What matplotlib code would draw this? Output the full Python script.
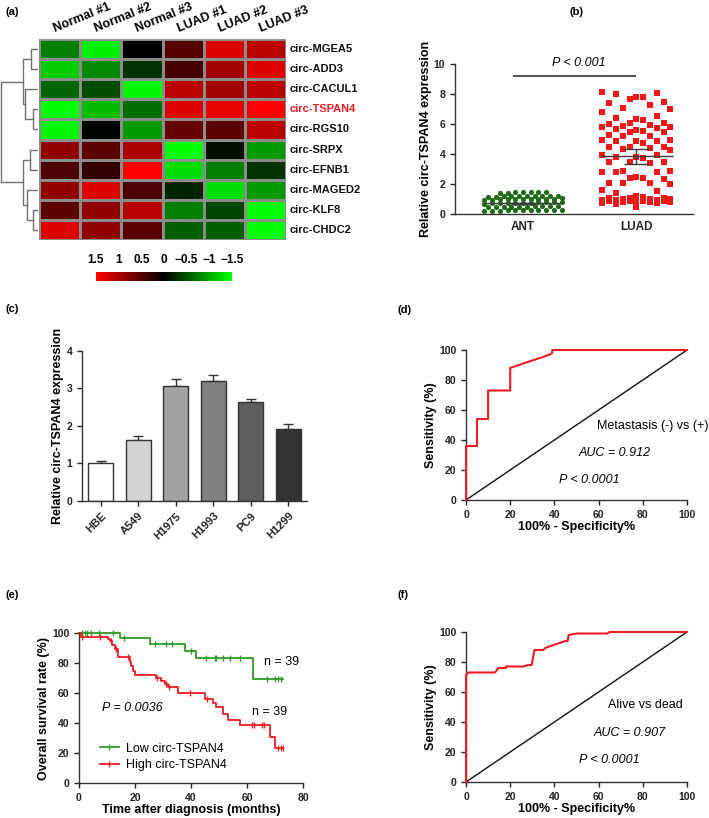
import numpy as np
import matplotlib

matplotlib.use("Agg")
import matplotlib.pyplot as plt
from matplotlib.colors import LinearSegmentedColormap
from matplotlib.lines import Line2D

plt.rcParams["font.family"] = ["Liberation Sans", "DejaVu Sans"]
plt.rcParams["axes.edgecolor"] = "#333333"
plt.rcParams["axes.linewidth"] = 1.0

# ---- (a) heatmap data ----
samples = ["Normal #1", "Normal #2", "Normal #3", "LUAD #1", "LUAD #2", "LUAD #3"]
circ_names = ["circ-MGEA5", "circ-ADD3", "circ-CACUL1", "circ-TSPAN4", "circ-RGS10",
              "circ-SRPX", "circ-EFNB1", "circ-MAGED2", "circ-KLF8", "circ-CHDC2"]
heat_values = [
    [-0.75, -1.40, 0.00, 0.50, 1.30, 1.10],
    [-1.20, -0.80, -0.30, 0.40, 0.95, 1.30],
    [-0.60, -0.45, -1.45, 1.10, 0.95, 1.10],
    [-1.50, -1.10, -0.65, 1.30, 1.35, 1.50],
    [-1.45, -0.03, -0.90, 0.60, 0.55, 1.10],
    [0.85, 0.55, 1.00, -1.50, -0.10, -0.90],
    [0.45, 0.30, 1.50, -1.30, -0.75, -0.30],
    [0.85, 1.30, 0.45, -0.20, -1.30, -0.90],
    [0.55, 0.85, 1.10, -0.75, -0.40, -1.50],
    [1.30, 0.85, 0.55, -0.55, -0.55, -1.50],
]
# merges (left id, right id, height); leaves are 0..9, new nodes 10, 11, ...
dendro_merges = [(0, 1, 7.0), (3, 4, 5.5), (2, 11, 13.0), (10, 12, 15.3),
                 (5, 6, 8.0), (8, 9, 5.5), (7, 15, 11.3), (14, 16, 14.7), (13, 17, 37.0)]
colorbar_ticks = [1.5, 1, 0.5, 0, -0.5, -1, -1.5]

# ---- (b) scatter data ----
ant_values = [0.20, 0.22, 0.24, 0.25, 0.25, 0.26, 0.27, 0.28, 0.30, 0.22, 0.24,
              0.45, 0.48, 0.50, 0.50, 0.52, 0.53, 0.55, 0.47, 0.50, 0.56,
              0.70, 0.72, 0.74, 0.75, 0.76, 0.78, 0.80, 0.73, 0.77, 0.79, 0.71,
              0.95, 0.97, 0.98, 1.00, 1.00, 1.02, 1.03, 0.96, 1.01, 0.99, 1.04,
              1.15, 1.17, 1.18, 1.20, 1.20, 1.21, 1.22, 1.16, 1.19, 1.23,
              1.42, 1.44, 1.45, 1.46, 1.47, 1.43, 1.48]
luad_values = [8.15, 8.05, 8.00, 7.80, 7.80, 7.70, 7.45, 7.40, 7.30, 7.05, 7.00, 6.80,
               6.55, 6.40, 6.35, 6.30, 6.10, 6.05, 6.00, 5.95, 5.90, 5.80, 5.80, 5.75,
               5.70, 5.60, 5.55, 5.50, 5.45, 5.25, 5.20, 5.20, 4.95, 4.95, 4.90, 4.90,
               4.85, 4.75, 4.50, 4.50, 4.45, 4.40, 4.35, 4.30, 3.95, 3.95, 3.80, 3.80,
               3.75, 3.50, 3.45, 3.45, 3.40, 2.85, 2.85, 2.80, 2.80, 2.80, 2.50, 2.40,
               2.40, 2.35, 2.05, 2.05, 2.05, 2.00, 1.60, 1.55, 1.40, 1.20, 1.15, 1.10,
               1.05, 1.05, 1.00, 1.00, 1.00, 0.95, 0.95, 0.95, 0.90, 0.90, 0.85, 0.85,
               0.85, 0.80, 0.80, 0.80, 0.75, 0.75, 0.70, 0.50]
group_means = [0.72, 3.85]
group_sems = [0.04, 0.50]

# ---- (c) bar data ----
cell_lines = ["HBE", "A549", "H1975", "H1993", "PC9", "H1299"]
cell_expr = [1.00, 1.63, 3.07, 3.20, 2.63, 1.93]
cell_err = [0.06, 0.09, 0.17, 0.15, 0.09, 0.12]
bar_colors = ["#ffffff", "#d2d2d2", "#a2a2a4", "#808080", "#5e5e5e", "#333333"]

# ---- (d) ROC metastasis ----
roc_d_fpr = [0, 0, 5, 5, 10, 10, 20, 20, 38, 39, 39, 100]
roc_d_tpr = [0, 36, 36, 54, 54, 73, 73, 88, 97, 98, 100, 100]

# ---- (e) Kaplan-Meier ----
low_event_months = [14.5, 25.2, 37.7, 41.7, 62.0]
low_levels = [96.6, 92.5, 87.8, 83.2, 69.2]
low_censor = [1.0, 2.0, 3.0, 4.3, 7.2, 12.0, 16.2, 27.0, 31.2, 33.2, 40.0, 45.5,
              48.4, 49.0, 51.5, 53.8, 57.4, 67.0, 70.0, 71.0, 72.3]
low_end = 72.8
high_event_months = [0.6, 10.4, 11.0, 11.8, 12.8, 14.0, 18.1, 18.7, 19.3, 19.9, 27.6,
                     29.4, 30.6, 31.8, 35.4, 45.1, 47.9, 49.0, 51.4, 53.2, 57.4, 68.1, 69.9]
high_levels = [97.4, 96.0, 94.5, 92.0, 89.5, 84.0, 81.0, 78.0, 75.0, 72.2, 70.1,
               68.3, 66.0, 63.8, 59.7, 56.3, 53.2, 50.7, 46.2, 42.3, 38.5, 30.5, 23.1]
high_censor = [1.0, 7.4, 11.5, 13.3, 17.5, 28.0, 31.0, 32.0, 39.6, 45.6, 61.8, 62.4,
               65.5, 66.0, 71.0, 72.2, 72.9]
high_end = 73.0

# ---- (f) ROC alive vs dead ----
roc_f_fpr = [0, 0, 1, 13, 14, 14.5, 18, 18, 26, 28, 29.7, 30.2, 31, 35, 36, 38, 40,
             42, 45, 46, 46.5, 50, 64, 65, 100]
roc_f_tpr = [0, 71, 73, 73, 74.5, 76, 76, 77, 77, 78, 78, 82, 88, 88, 89.5, 90.5,
             91.5, 92.5, 94, 94, 98, 99, 99, 100, 100]

W, H = 709, 818
RED = "#ee1c24"
GREEN = "#2f9a25"
TICK_FS = 7.5
LABEL_FS = 9
YPAD = 1.5

fig = plt.figure(figsize=(W / 100, H / 100), dpi=100)


def box(x0, y0, x1, y1):
    return [x0 / W, 1 - y1 / H, (x1 - x0) / W, (y1 - y0) / H]


def panel_label(x, y, s):
    fig.text(x / W, 1 - y / H, s, fontsize=8, fontweight="bold", va="center")


def style_axes(ax):
    for side in ("top", "right"):
        ax.spines[side].set_visible(False)
    ax.tick_params(direction="out", length=3.5, width=1, labelsize=TICK_FS, colors="#222222")
    for lab in ax.get_xticklabels() + ax.get_yticklabels():
        lab.set_fontweight("bold")


def row_layout(values, center, row_h, dx):
    v = np.sort(np.asarray(values, dtype=float))
    xs = np.empty_like(v)
    start = 0
    while start < len(v):
        end = start
        while end < len(v) and v[end] - v[start] < row_h:
            end += 1
        n = end - start
        xs[start:end] = center + (np.arange(n) - (n - 1) / 2) * dx
        start = end
    return xs, v


def column_cycle_layout(values, center, dx, order=(5, 2, 8, 0, 10, 3, 7, 1, 9, 4, 6)):
    # spread sorted values over a fixed set of columns, cycling through them
    v = np.sort(np.asarray(values, dtype=float))
    ncol = len(order)
    cols = np.array([order[i % ncol] for i in range(len(v))])
    return center + (cols - (ncol - 1) / 2) * dx, v


def step_value(months, levels, t):
    idx = np.searchsorted(months, t, side="right")
    return np.concatenate([[100.0], levels])[idx]


# ================= (a) =================
cmap = LinearSegmentedColormap.from_list("gkr", ["#00ff00", "#000000", "#ff0000"])
data = np.array(heat_values)
ax = fig.add_axes(box(39, 39, 286, 240))
ax.pcolormesh(data, cmap=cmap, vmin=-1.5, vmax=1.5, edgecolors="#8c8c8c", linewidth=0.8)
ax.set_xlim(0, data.shape[1])
ax.set_ylim(data.shape[0], 0)
ax.set_axis_off()
for j, name in enumerate(samples):
    ax.text(j + 0.42, -0.2, name, rotation=22, rotation_mode="anchor", ha="left",
            va="bottom", fontsize=9, fontweight="bold")
for i, name in enumerate(circ_names):
    ax.text(6.1, i + 0.5, name, ha="left", va="center", fontsize=8, fontweight="bold",
            color=RED if name == "circ-TSPAN4" else "#111111")

ax = fig.add_axes(box(0, 39, 38, 240))
ax.set_xlim(38, 0)
ax.set_ylim(10, 0)
ax.set_axis_off()
pos = {i: (0.0, i + 0.5) for i in range(10)}
for k, (a, b, h) in enumerate(dendro_merges):
    (ha, ya), (hb, yb) = pos[a], pos[b]
    ax.plot([ha, h, h, hb], [ya, ya, yb, yb], color="#707070", lw=1)
    pos[10 + k] = (h, (ya + yb) / 2)

ax = fig.add_axes(box(96, 272, 232, 281))
grad = np.linspace(1.5, -1.5, 256)[None, :]
ax.imshow(grad, extent=[1.5, -1.5, 0, 1], cmap=cmap, vmin=-1.5, vmax=1.5, aspect="auto")
ax.set_xlim(1.5, -1.5)
ax.set_yticks([])
ax.set_xticks(colorbar_ticks)
ax.set_xticklabels([f"{t:g}".replace("-", "\u2212") for t in colorbar_ticks],
                   fontsize=8.5, fontweight="bold")
ax.xaxis.tick_top()
ax.tick_params(axis="x", length=0, pad=4)
for s in ax.spines.values():
    s.set_visible(False)
panel_label(5, 12, "(a)")

# ================= (b) =================
ax = fig.add_axes(box(455, 64, 693, 214))
xa, ya = row_layout(ant_values, 0, 0.15, 0.068)
ax.scatter(xa, ya, s=14, marker="o", color="#1f6b1a", zorder=3, linewidths=0)
xl, yl = column_cycle_layout(luad_values, 1, 0.06)
ax.scatter(xl, yl, s=16, marker="s", color="#f01818", zorder=3, linewidths=0)
for c, m, e, half in zip([0, 1], group_means, group_sems, [0.34, 0.32]):
    ax.hlines(m, c - half, c + half, color="#3a3a3a", lw=1, zorder=4)
    ax.vlines(c, m - e, m + e, color="#3a3a3a", lw=1, zorder=4)
    ax.hlines([m - e, m + e], c - 0.11, c + 0.11, color="#3a3a3a", lw=1, zorder=4)
ax.hlines(9.2, -0.09, 1.0, color="#555555", lw=1.5)
ax.text(0.49, 10.05, "P < 0.001", style="italic", fontsize=9, ha="center", va="center",
        clip_on=False)
ax.set_xlim(-0.6, 1.5)
ax.set_ylim(0, 10)
ax.set_yticks(range(0, 11, 2))
ax.set_xticks([0, 1])
ax.set_xticklabels(["ANT", "LUAD"])
style_axes(ax)
ax.tick_params(axis="x", length=0, pad=5, labelsize=8.5)
ax.set_ylabel("Relative circ-TSPAN4 expression", fontsize=LABEL_FS, fontweight="bold",
              labelpad=YPAD)
panel_label(569, 12, "(b)")

# ================= (c) =================
ax = fig.add_axes(box(82, 351, 307, 501))
xpos = np.arange(len(cell_lines))
ax.errorbar(xpos, cell_expr, yerr=[np.zeros(len(cell_err)), cell_err], fmt="none",
            ecolor="#333333", elinewidth=1, capsize=3.5, capthick=1, zorder=1)
ax.bar(xpos, cell_expr, width=0.67, color=bar_colors, edgecolor="#333333", lw=1, zorder=2)
ax.set_xlim(-0.5, 5.5)
ax.set_ylim(0, 4)
ax.set_yticks(range(0, 5))
ax.set_xticks(xpos)
ax.set_xticklabels(cell_lines, rotation=45, ha="right", rotation_mode="anchor")
style_axes(ax)
ax.tick_params(axis="x", labelsize=8)
ax.set_ylabel("Relative circ-TSPAN4 expression", fontsize=LABEL_FS, fontweight="bold",
              labelpad=YPAD)
panel_label(5, 309, "(c)")


def roc_panel(rect, fpr, tpr, texts):
    ax = fig.add_axes(box(*rect))
    ax.plot([0, 100], [0, 100], color="#111111", lw=1)
    ax.plot(fpr, tpr, color=RED, lw=1.5, clip_on=False, zorder=3)
    ax.set_xlim(0, 100)
    ax.set_ylim(0, 100)
    ax.set_xticks(range(0, 101, 20))
    ax.set_yticks(range(0, 101, 20))
    style_axes(ax)
    ax.set_xlabel("100% - Specificity%", fontsize=LABEL_FS, fontweight="bold", labelpad=1)
    ax.set_ylabel("Sensitivity (%)", fontsize=LABEL_FS, fontweight="bold", labelpad=YPAD)
    for x, y, s, st in texts:
        ax.text(x, y, s, style=st, fontsize=9, ha="center", va="center", clip_on=False)
    return ax


# ================= (d) =================
roc_panel((466, 350, 687, 500), roc_d_fpr, roc_d_tpr,
          [(84.5, 49, "Metastasis (-) vs (+)", "normal"),
           (67.5, 31.5, "AUC = 0.912", "italic"),
           (56, 13.3, "P < 0.0001", "italic")])
panel_label(398, 310, "(d)")

# ================= (e) =================
ax = fig.add_axes(box(79, 633, 303, 783))
for months, levels, censor, end, col in [
        (low_event_months, low_levels, low_censor, low_end, GREEN),
        (high_event_months, high_levels, high_censor, high_end, RED)]:
    t = np.concatenate([[0], months, [end]])
    s = np.concatenate([[100], levels, [levels[-1]]])
    ax.step(t, s, where="post", color=col, lw=1.3, clip_on=False)
    ax.plot(censor, step_value(months, levels, np.array(censor)), ls="none", marker="|",
            ms=5, mew=1, color=col, clip_on=False)
ax.set_xlim(0, 80)
ax.set_ylim(0, 100)
ax.set_xticks(range(0, 81, 20))
ax.set_yticks(range(0, 101, 20))
style_axes(ax)
ax.set_xlabel("Time after diagnosis (months)", fontsize=LABEL_FS, fontweight="bold",
              labelpad=1)
ax.set_ylabel("Overall survival rate (%)", fontsize=LABEL_FS, fontweight="bold",
              labelpad=YPAD)
ax.text(72.3, 80.4, "n = 39", fontsize=9, ha="center", va="center")
ax.text(67.9, 47.5, "n = 39", fontsize=9, ha="center", va="center")
ax.text(19, 50.2, "P = 0.0036", fontsize=9, style="italic", ha="center", va="center")
handles = [Line2D([0], [0], color=GREEN, lw=1.3, marker="|", ms=5, mew=1),
           Line2D([0], [0], color=RED, lw=1.3, marker="|", ms=5, mew=1)]
ax.legend(handles, ["Low circ-TSPAN4", "High circ-TSPAN4"], loc="upper left",
          bbox_to_anchor=(0.065, 0.31), frameon=False, fontsize=9, borderpad=0,
          handlelength=1.5, handletextpad=0.6, labelspacing=0.35, numpoints=1)
panel_label(5, 595, "(e)")

# ================= (f) =================
roc_panel((466, 632, 687, 782), roc_f_fpr, roc_f_tpr,
          [(81, 51.3, "Alive vs dead", "normal"),
           (74, 32.5, "AUC = 0.907", "italic"),
           (65, 14.7, "P < 0.0001", "italic")])
panel_label(398, 595, "(f)")

fig.savefig("out.png", dpi=100)
